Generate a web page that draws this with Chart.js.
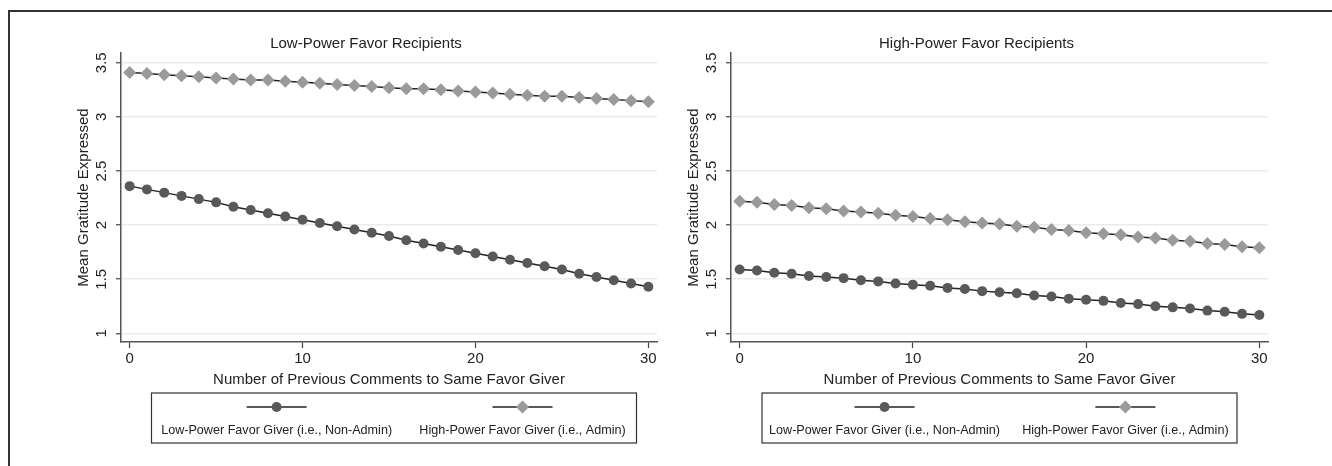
<!DOCTYPE html>
<html>
<head>
<meta charset="utf-8">
<script src="https://cdn.jsdelivr.net/npm/chart.js@4.4.1/dist/chart.umd.min.js"></script>
<style>
  body{margin:0;background:#fff;}
  #frame{position:absolute;left:8px;top:10px;width:1330px;height:460px;border-left:2px solid #333;border-top:2px solid #333;}
  .panel{position:absolute;top:0;width:666px;height:466px;}
</style>
</head>
<body>
<div id="frame"></div>
<div class="panel" style="left:0"><canvas id="lowPower"></canvas></div>
<div class="panel" style="left:666px"><canvas id="highPower"></canvas></div>
<script>
const comments = [0,1,2,3,4,5,6,7,8,9,10,11,12,13,14,15,16,17,18,19,20,21,22,23,24,25,26,27,28,29,30];
const xTicks = [0,10,20,30];
const yTicks = [1,1.5,2,2.5,3,3.5];
const seriesNames = ['Low-Power Favor Giver (i.e., Non-Admin)','High-Power Favor Giver (i.e., Admin)'];

// Low-Power Favor Recipients
const lowRecNonAdmin = [2.36,2.33,2.30,2.27,2.24,2.21,2.17,2.14,2.11,2.08,2.05,2.02,1.99,1.96,1.93,1.90,1.86,1.83,1.80,1.77,1.74,1.71,1.68,1.65,1.62,1.59,1.55,1.52,1.49,1.46,1.43];
const lowRecAdmin = [3.41,3.40,3.39,3.38,3.37,3.36,3.35,3.34,3.34,3.33,3.32,3.31,3.30,3.29,3.28,3.27,3.26,3.26,3.25,3.24,3.23,3.22,3.21,3.20,3.19,3.19,3.18,3.17,3.16,3.15,3.14];
// High-Power Favor Recipients
const highRecNonAdmin = [1.59,1.58,1.56,1.55,1.53,1.52,1.51,1.49,1.48,1.46,1.45,1.44,1.42,1.41,1.39,1.38,1.37,1.35,1.34,1.32,1.31,1.30,1.28,1.27,1.25,1.24,1.23,1.21,1.20,1.18,1.17];
const highRecAdmin = [2.22,2.21,2.19,2.18,2.16,2.15,2.13,2.12,2.11,2.09,2.08,2.06,2.05,2.03,2.02,2.01,1.99,1.98,1.96,1.95,1.93,1.92,1.91,1.89,1.88,1.86,1.85,1.83,1.82,1.80,1.79];

const FONT = 'Liberation Sans, Arial, sans-serif';
const DARK = '#595959', GREY = '#9a9a9a';

// boxed legend drawn under the x axis title
const boxLegend = {
  id:'boxLegend',
  afterDraw(chart, args, opts){
    const ctx = chart.ctx, ca = chart.chartArea;
    const cx = (ca.left+ca.right)/2 + opts.dx;
    const left = cx - opts.width/2, top = ca.bottom + 51, h = 50;
    ctx.save();
    ctx.strokeStyle = '#333'; ctx.lineWidth = 1.2;
    ctx.strokeRect(left, top, opts.width, h);
    chart.data.datasets.forEach((ds, i)=>{
      const x = left + opts.width*(i===0 ? 0.258 : 0.765);
      const y = top + 14;
      ctx.strokeStyle = '#222'; ctx.lineWidth = 1.5;
      ctx.beginPath(); ctx.moveTo(x-30, y); ctx.lineTo(x+30, y); ctx.stroke();
      ctx.fillStyle = ds.pointBackgroundColor;
      ctx.beginPath();
      if(ds.pointStyle==='rectRot'){
        const r = ds.pointRadius;
        ctx.moveTo(x, y-r); ctx.lineTo(x+r, y); ctx.lineTo(x, y+r); ctx.lineTo(x-r, y);
        ctx.closePath();
      } else {
        ctx.arc(x, y, ds.pointRadius, 0, Math.PI*2);
      }
      ctx.fill();
      ctx.fillStyle = '#222';
      ctx.font = '12.6px ' + FONT;
      ctx.textAlign = 'center'; ctx.textBaseline = 'middle';
      ctx.fillText(ds.label, x, top + 38);
    });
    ctx.restore();
  }
};

function makePanel(id, title, nonAdmin, admin, pad, legendOpts){
  new Chart(document.getElementById(id), {
    type:'line',
    data:{ datasets:[
      { label:seriesNames[0], data:comments.map((c,i)=>({x:c, y:nonAdmin[i]})),
        borderColor:'#222', borderWidth:1.5, pointStyle:'circle', pointRadius:5,
        pointBackgroundColor:DARK, pointBorderColor:DARK, pointBorderWidth:0 },
      { label:seriesNames[1], data:comments.map((c,i)=>({x:c, y:admin[i]})),
        borderColor:'#222', borderWidth:1.5, pointStyle:'rectRot', pointRadius:6.5,
        pointBackgroundColor:GREY, pointBorderColor:GREY, pointBorderWidth:0 }
    ]},
    options:{
      responsive:true, maintainAspectRatio:false, animation:false,
      layout:{ padding:pad },
      plugins:{
        legend:{display:false}, tooltip:{enabled:false},
        title:{display:true, text:title, color:'#222', font:{size:15, family:FONT, weight:'normal'}, padding:{top:0,bottom:0}},
        boxLegend:legendOpts
      },
      scales:{
        x:{ type:'linear', min:-0.5, max:30.5,
          afterBuildTicks:s=>{ s.ticks = xTicks.map(v=>({value:v})); },
          afterFit:s=>{ s.height = 47; },
          ticks:{ color:'#222', font:{size:15, family:FONT}, padding:2, maxRotation:0, callback:v=>v },
          grid:{ drawOnChartArea:false, tickColor:'#444', tickLength:6, tickWidth:1.2 },
          border:{ color:'#555', width:1.5 },
          title:{ display:true, text:'Number of Previous Comments to Same Favor Giver', color:'#222', font:{size:15, family:FONT}, padding:{top:0,bottom:0} }
        },
        y:{ min:0.92, max:3.59,
          afterBuildTicks:s=>{ s.ticks = yTicks.map(v=>({value:v})); },
          afterFit:s=>{ s.width = 46; },
          ticks:{ color:'#222', font:{size:15, family:FONT}, padding:4, minRotation:90, maxRotation:90, crossAlign:'center', callback:v=>v },
          grid:{ color:'#ebebeb', lineWidth:1.5, tickColor:'#444', tickLength:5, tickWidth:1.2 },
          border:{ color:'#555', width:1.5 },
          title:{ display:true, text:'Mean Gratitude Expressed', color:'#222', font:{size:15, family:FONT}, padding:{top:0,bottom:0} }
        }
      }
    },
    plugins:[boxLegend]
  });
}

makePanel('lowPower', 'Low-Power Favor Recipients', lowRecNonAdmin, lowRecAdmin,
  {left:75, right:9, top:35, bottom:77}, {width:485, dx:5});
makePanel('highPower', 'High-Power Favor Recipients', highRecNonAdmin, highRecAdmin,
  {left:19, right:64, top:35, bottom:77}, {width:475, dx:0});
</script>
</body>
</html>
